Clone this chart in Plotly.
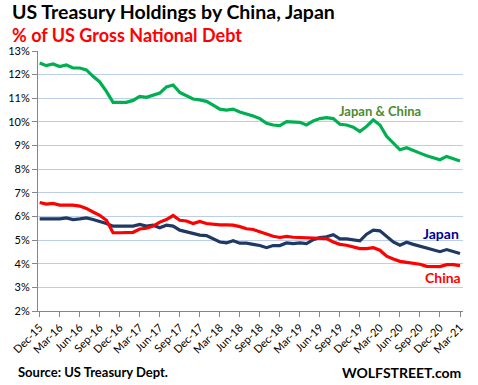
import plotly.graph_objects as go

months = ["Dec-15", "Mar-16", "Jun-16", "Sep-16", "Dec-16", "Mar-17", "Jun-17", "Sep-17",
          "Dec-17", "Mar-18", "Jun-18", "Sep-18", "Dec-18", "Mar-19", "Jun-19", "Sep-19",
          "Dec-19", "Mar-20", "Jun-20", "Sep-20", "Dec-20", "Mar-21"]

japan_china = [12.49, 12.38, 12.45, 12.34, 12.41, 12.28, 12.28, 12.20, 11.93, 11.69,
               11.29, 10.83, 10.83, 10.83, 10.91, 11.08, 11.04, 11.14, 11.22, 11.48,
               11.56, 11.25, 11.12, 10.97, 10.93, 10.87, 10.71, 10.54, 10.50, 10.54,
               10.42, 10.34, 10.25, 10.14, 9.94, 9.87, 9.84, 10.01, 9.98, 9.98,
               9.87, 10.04, 10.14, 10.18, 10.14, 9.90, 9.87, 9.78, 9.59, 9.81,
               10.09, 9.87, 9.39, 9.11, 8.82, 8.91, 8.78, 8.68, 8.57, 8.47,
               8.40, 8.54, 8.44, 8.35]

japan = [5.90, 5.90, 5.90, 5.90, 5.94, 5.87, 5.90, 5.94, 5.87, 5.80,
         5.70, 5.59, 5.59, 5.59, 5.59, 5.66, 5.59, 5.63, 5.52, 5.63,
         5.59, 5.42, 5.36, 5.28, 5.21, 5.19, 5.06, 4.92, 4.88, 4.97,
         4.87, 4.87, 4.82, 4.77, 4.68, 4.77, 4.77, 4.88, 4.85, 4.88,
         4.85, 5.02, 5.11, 5.14, 5.23, 5.05, 5.05, 5.02, 4.97, 5.25,
         5.42, 5.39, 5.14, 4.92, 4.78, 4.91, 4.82, 4.74, 4.68, 4.60,
         4.51, 4.60, 4.51, 4.43]

china = [6.59, 6.52, 6.55, 6.48, 6.48, 6.48, 6.44, 6.34, 6.19, 6.05,
         5.84, 5.31, 5.31, 5.31, 5.33, 5.47, 5.50, 5.59, 5.76, 5.87,
         6.04, 5.84, 5.81, 5.70, 5.79, 5.70, 5.66, 5.64, 5.64, 5.63,
         5.57, 5.48, 5.45, 5.36, 5.25, 5.16, 5.11, 5.16, 5.12, 5.11,
         5.08, 5.06, 5.06, 5.06, 4.92, 4.82, 4.78, 4.71, 4.64, 4.64,
         4.68, 4.57, 4.32, 4.20, 4.10, 4.06, 4.02, 3.98, 3.89, 3.88,
         3.88, 3.96, 3.96, 3.92]

y_ticks = list(range(2, 14))

idx = list(range(len(japan_china)))
FONT = "Lato"

fig = go.Figure()
fig.add_trace(go.Scatter(x=idx, y=japan_china, mode="lines",
                         line=dict(color="#00B050", width=3.2), name="Japan & China"))
fig.add_trace(go.Scatter(x=idx, y=japan, mode="lines",
                         line=dict(color="#1F3864", width=3.2), name="Japan"))
fig.add_trace(go.Scatter(x=idx, y=china, mode="lines",
                         line=dict(color="#FF0000", width=3.2), name="China"))

fig.update_layout(
    width=478, height=385,
    margin=dict(l=38, r=15, t=51, b=74),
    paper_bgcolor="white", plot_bgcolor="white",
    showlegend=False,
    font=dict(family=FONT, size=11, color="#000000"),
)
fig.update_xaxes(
    automargin=False,
    range=[-0.25, 63.45],
    tickvals=[3 * k for k in range(len(months))],
    ticktext=months,
    tickangle=-45,
    ticks="outside", ticklen=5, tickcolor="#868686",
    showline=True, linecolor="#868686", linewidth=1,
    showgrid=False, zeroline=False,
    tickfont=dict(family=FONT, size=11, color="#000000"),
)
fig.update_yaxes(
    automargin=False,
    range=[2, 13],
    tickvals=y_ticks,
    ticktext=[f"{v}%" for v in y_ticks],
    ticks="outside", ticklen=5, tickcolor="#868686",
    showline=True, linecolor="#868686", linewidth=1,
    showgrid=True, gridcolor="#BCCFE6", gridwidth=1,
    zeroline=False,
    tickfont=dict(family=FONT, size=11, color="#000000"),
)

ann = []
ann.append(dict(text="<b>US Treasury Holdings by China, Japan</b>", xref="paper", yref="paper",
                x=-28/425, y=1 + (51 - 12) / 259, xanchor="left", yanchor="middle",
                showarrow=False, font=dict(family=FONT, size=19.5, color="#000000")))
ann.append(dict(text="<b>% of US Gross National Debt</b>", xref="paper", yref="paper",
                x=-28/425, y=1 + (51 - 35.5) / 259, xanchor="left", yanchor="middle",
                showarrow=False, font=dict(family=FONT, size=18, color="#FF0000")))
ann.append(dict(text="<b>Source: US Treasury Dept.</b>", xref="paper", yref="paper",
                x=-22/425, y=-(371 - 310) / 259, xanchor="left", yanchor="middle",
                showarrow=False, font=dict(family=FONT, size=13, color="#000000")))
ann.append(dict(text="<b>WOLFSTREET.com</b>", xref="paper", yref="paper",
                x=1.0, y=-(371 - 310) / 259, xanchor="right", yanchor="middle",
                showarrow=False, font=dict(family=FONT, size=14, color="#000000")))
ann.append(dict(text="<b>Japan & China</b>", xref="x", yref="y",
                x=44.5, y=10.45, xanchor="left", yanchor="middle",
                showarrow=False, font=dict(family=FONT, size=13, color="#4E8A2E")))
ann.append(dict(text="<b>8.3%</b>", xref="x", yref="y",
                x=64.9, y=7.72, xanchor="right", yanchor="middle",
                showarrow=False, font=dict(family=FONT, size=17, color="#00B050")))
ann.append(dict(text="<b>Japan</b>", xref="x", yref="y",
                x=63.1, y=5.26, xanchor="right", yanchor="middle",
                showarrow=False, font=dict(family=FONT, size=14, color="#0000A0")))
ann.append(dict(text="<b>China</b>", xref="x", yref="y",
                x=63.4, y=3.4, xanchor="right", yanchor="middle",
                showarrow=False, font=dict(family=FONT, size=14, color="#FF0000")))
fig.update_layout(annotations=ann)

fig.write_html("out.html",
               config={"displayModeBar": False},
               post_script="document.body.style.margin='0';document.body.style.padding='0';")
